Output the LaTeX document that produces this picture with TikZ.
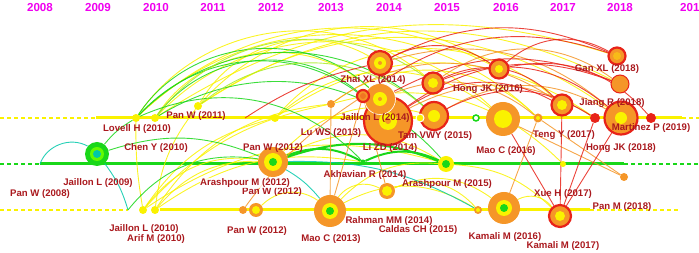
\documentclass[tikz,border=0pt]{standalone}
\usepackage{fontspec}
\setsansfont{Liberation Sans}
\usetikzlibrary{backgrounds}
\definecolor{cgreen}{RGB}{25,215,25}
\definecolor{cteal}{RGB}{0,200,170}
\definecolor{cyellow}{RGB}{250,242,0}
\definecolor{clime}{RGB}{170,235,40}
\definecolor{corange}{RGB}{245,150,40}
\definecolor{cred}{RGB}{232,35,25}
\definecolor{labred}{RGB}{170,25,30}
\definecolor{yearpink}{RGB}{240,0,240}

\begin{document}
\begin{tikzpicture}
  [x=1pt, y=-1pt,
   lab/.style={font=\sffamily\bfseries\fontsize{9.6}{10}\selectfont, text=labred, inner sep=0pt},
   year/.style={font=\sffamily\bfseries\fontsize{11.6}{12}\selectfont, text=yearpink, inner sep=0pt},
   hot/.style={circle, inner sep=0pt, fill=corange, draw=cred, line width=2.2pt},
   warm/.style={circle, inner sep=0pt, fill=corange},
   cold/.style={circle, inner sep=0pt, fill=cgreen},
   smalldot/.style={circle, inner sep=0pt, minimum size=8pt, fill=cyellow},
   timeline/.style={line width=3pt},
   dashtail/.style={line width=1.3pt, dash pattern=on 4pt off 3pt},
   cite/.style={line width=0.9pt, opacity=0.85}]

  \useasboundingbox (0,0) rectangle (699,253);

  % Years
  \node[year] (y08) at (40,8) {2008};
  \node[year] (y09) at (98,8) {2009};
  \node[year] (y10) at (156,8) {2010};
  \node[year] (y11) at (213,8) {2011};
  \node[year] (y12) at (271,8) {2012};
  \node[year] (y13) at (331,8) {2013};
  \node[year] (y14) at (389,8) {2014};
  \node[year] (y15) at (447,8) {2015};
  \node[year] (y16) at (506,8) {2016};
  \node[year] (y17) at (563,8) {2017};
  \node[year] (y18) at (620,8) {2018};
  \node[year] (y19) at (693,8) {2019};

  % Top line
  \node[smalldot] (lovell) at (136,118) {};
  \node[smalldot] (cheny) at (155,118) {};
  \node[smalldot] (panw11) at (198,106) {};
  \node[smalldot] (t12a) at (275,118) {};
  \coordinate (t12b) at (245,118);
  \node[warm, minimum size=8pt] (luws) at (331,104) {};
  \node[hot, minimum size=48pt] (jail14) at (388,121) {};
  \fill[cyellow] (jail14) circle (9); \fill[corange] (jail14) circle (3);
  \node[hot, minimum size=31pt, draw=white, line width=0.6pt] (zhaiB) at (380,99) {};
  \fill[cyellow] (zhaiB) circle (7); \fill[corange] (zhaiB) circle (2);
  \node[hot, minimum size=12pt] (zhaiS) at (363,96) {};
  \fill[corange!70!cred] (zhaiS) circle (3);
  \node[hot, minimum size=24pt] (zhaiA) at (380,63) {};
  \fill[cyellow] (zhaiA) circle (6); \fill[corange] (zhaiA) circle (2);
  \node[hot, minimum size=28pt] (tamB) at (434,116) {};
  \fill[cyellow] (tamB) circle (6);
  \node[hot, minimum size=21pt] (tamA) at (433,83) {};
  \fill[cyellow] (tamA) circle (5);
  \node[smalldot, draw=white, line width=1pt] (y15n) at (420,118) {};
  \node[circle, inner sep=0pt, minimum size=6pt, draw=cgreen, line width=1.5pt, fill=white] (g15) at (476,118) {};
  \node[hot, minimum size=19pt] (hong16) at (499,69) {};
  \fill[cyellow] (hong16) circle (4);
  \node[warm, minimum size=34pt] (mao16) at (503,119) {};
  \fill[cyellow] (mao16) circle (9);
  \node[warm, minimum size=9pt] (o17) at (538,118) {};
  \fill[cyellow] (o17) circle (2);
  \node[hot, minimum size=21pt] (jiang) at (562,105) {};
  \fill[cyellow] (jiang) circle (5);
  \node[circle, inner sep=0pt, minimum size=10pt, fill=cred] (r18a) at (595,118) {};
  \node[hot, minimum size=33pt] (mart) at (621,118) {};
  \fill[cyellow] (mart) circle (6);
  \node[warm, minimum size=18pt, draw=cred, line width=1pt] (gan2) at (620,84) {};
  \node[hot, minimum size=17pt] (gan) at (617,56) {};
  \fill[corange!60!cyellow] (gan) circle (4);
  \node[circle, inner sep=0pt, minimum size=10pt, fill=cred] (r19) at (651,118) {};

  % Middle line
  \coordinate (pan08) at (40,164);
  \node[cold, minimum size=24pt] (jail09) at (97,154) {};
  \fill[green!60!cyellow] (jail09) circle (7); \fill[cteal] (jail09) circle (4);
  \node[warm, minimum size=30pt] (panw12m) at (273,162) {};
  \fill[cyellow] (panw12m) circle (9); \fill[cgreen] (panw12m) circle (4);
  \node[cold, minimum size=5pt] (lizdn) at (363,162) {};
  \node[circle, inner sep=0pt, minimum size=16pt, fill=cyellow] (m15) at (446,164) {};
  \fill[cgreen] (m15) circle (4);
  \node[smalldot, minimum size=6pt] (m17) at (563,164) {};
  \node[warm, minimum size=8pt] (hong18) at (624,177) {};

  % Bottom line
  \coordinate (b0) at (128,210);
  \node[smalldot] (jail10) at (143,210) {};
  \node[smalldot] (arif) at (155,210) {};
  \node[warm, minimum size=8pt] (panw12a) at (243,210) {};
  \node[warm, minimum size=14pt] (panw12b) at (256,210) {};
  \fill[cyellow] (panw12b) circle (4);
  \node[warm, minimum size=32pt] (mao13) at (330,211) {};
  \fill[cyellow] (mao13) circle (8); \fill[cgreen] (mao13) circle (4);
  \node[warm, minimum size=16pt] (akh) at (387,191) {};
  \fill[cyellow] (akh) circle (5);
  \node[warm, minimum size=8pt] (cal) at (478,210) {};
  \fill[cyellow] (cal) circle (2);
  \node[warm, minimum size=32pt] (kam16) at (504,208) {};
  \fill[cyellow] (kam16) circle (8); \fill[cgreen] (kam16) circle (4);
  \node[hot, minimum size=22pt] (kam17) at (560,216) {};
  \fill[cyellow] (kam17) circle (5);

  \begin{scope}[on background layer]
    % Timelines
    \draw[dashtail, cyellow] (0,118) -- (96,118);
    \draw[timeline, cyellow] (96,118) -- (682,118);
    \draw[dashtail, cyellow] (682,118) -- (699,118);
    \draw[dashtail, cgreen] (0,164) -- (pan08);
    \draw[timeline, cgreen] (pan08) -- (624,164);
    \draw[dashtail, cgreen] (624,164) -- (699,164);
    \draw[dashtail, cyellow] (0,210) -- (b0);
    \draw[timeline, cyellow] (160,210) -- (590,210);
    \draw[dashtail, cyellow] (590,210) -- (680,210);

    % Yellow arcs
    \draw[cite, cyellow] (cheny) to[bend left=45] (mao16);
    \draw[cite, cyellow] (lovell) to[bend left=35] (hong16);
    \draw[cite, cyellow] (panw11) to[bend left=30] (gan2);
    \draw[cite, cyellow] (t12a) to[bend left=45] (jiang);
    \draw[cite, cyellow] (panw11) to[bend left=35] (mart);
    \draw[cite, cyellow] (cheny) to[bend left=25] (gan);
    \draw[cite, cyellow] (lovell) to[bend left=44] (o17);
    \draw[cite, cyellow] (lovell) to[bend left=48] (tamA);
    \draw[cite, cyellow] (cheny) to[bend left=50] (zhaiB);
    \draw[cite, cyellow] (panw11) to[bend left=45] (zhaiA);
    \draw[cite, cyellow] (panw11) to[bend left=40] (hong16);
    \draw[cite, cyellow] (t12a) to[bend left=40] (mao16);
    \draw[cite, cyellow] (t12a) to[bend left=35] (r18a);
    \draw[cite, cyellow] (luws) to[bend left=40] (o17);
    \draw[cite, cyellow] (jail10) to[bend left=30] (panw12m);
    \draw[cite, cyellow] (arif) to[bend left=25] (panw12m);
    \draw[cite, cyellow] (jail10) to[bend left=5] (lovell);
    \draw[cite, cyellow] (arif) to[bend left=15] (panw11);
    \draw[cite, cyellow] (arif) to[bend left=25] (luws);
    \draw[cite, cyellow] (jail10) to[bend left=20] (t12a);
    \draw[cite, cyellow] (jail10) to[bend left=25] (m15);
    \draw[cite, cyellow] (arif) to[bend left=22] (lizdn);
    \draw[cite, cyellow] (jail10) to[bend left=18] (luws);
    \draw[cite, cyellow] (panw12b) to[bend left=40] (mao13);
    \draw[cite, cyellow] (mao13) to[bend left=40] (akh);
    \draw[cite, cyellow] (akh) to[bend left=35] (cal);
    \draw[cite, cyellow] (kam16) to[bend left=40] (kam17);
    \draw[cite, cyellow] (mao13) to[bend left=30] (cal);
    \draw[cite, cyellow] (akh) to[bend left=30] (kam16);
    \draw[cite, cyellow] (m15) to[bend left=20] (kam17);
    \draw[cite, cyellow] (panw12m) to[bend left=30] (m15);
    \draw[cite, cyellow] (panw12m) to[bend left=30] (tamB);
    \draw[cite, cyellow] (mao13) to[bend left=25] (m15);
    \draw[cite, cyellow] (luws) to[bend left=30] (m17);

    % Green arcs
    \draw[cite, cgreen] (lovell) to[bend left=50] (zhaiB);
    \draw[cite, cgreen] (lovell) to[bend left=45] (jail14);
    \draw[cite, cgreen] (lovell) to[bend left=44] (tamB);
    \draw[cite, cgreen] (cheny) to[bend left=46] (zhaiS);
    \draw[cite, clime] (cheny) to[bend left=44] (tamA);
    \draw[cite, cgreen] (cheny) to[bend left=40] (m15);
    \draw[cite, cgreen] (lovell) to[bend left=35] (lizdn);
    \draw[cite, clime] (panw11) to[bend left=40] (tamB);
    \draw[cite, cgreen] (jail09) to[bend left=20] (panw12m);
    \draw[cite, cgreen] (jail09) to[bend left=10] (lovell);
    \draw[cite, cteal] (pan08) to[bend left=50] (jail09);
    \draw[cite, cteal] (jail09) to[bend left=10] (b0);
    \draw[cite, cgreen] (b0) to[bend left=30] (panw12m);
    \draw[cgreen, line width=2pt] (panw12m) to[bend left=25] (lizdn);
    \draw[cgreen, line width=2pt] (panw12m) to[bend left=20] (m15);
    \draw[cgreen, line width=2pt] (lizdn) to[bend left=25] (m15);
    \draw[cite, cteal] (panw12m) to[bend left=10] (mao13);
    \draw[cite, cteal] (panw12m) to[bend left=15] (cal);

    % Orange arcs
    \draw[cite, corange] (luws) to[bend left=35] (jiang);
    \draw[cite, corange] (tamA) to[bend left=35] (gan2);
    \draw[cite, corange] (tamB) to[bend left=30] (mart);
    \draw[cite, corange] (zhaiB) to[bend left=30] (o17);
    \draw[cite, corange] (jail14) to[bend left=30] (r18a);
    \draw[cite, corange] (zhaiA) to[bend left=28] (mart);
    \draw[cite, corange] (mao13) -- (luws);
    \draw[cite, corange] (akh) -- (zhaiS);
    \draw[cite, corange] (mao13) -- (zhaiS);
    \draw[cite, corange] (panw12a) to[bend left=10] (zhaiS);
    \draw[cite, corange] (hong18) -- (o17);
    \draw[cite, corange] (hong18) -- (mao16);
    \draw[cite, corange] (o17) -- (kam16);

    % Red arcs
    \draw[cite, cred] (zhaiA) to[bend left=25] (gan);
    \draw[cite, cred] (zhaiS) to[bend left=28] (gan);
    \draw[cite, cred] (t12b) to[bend left=10] (zhaiA);
    \draw[cite, cred] (zhaiA) to[bend left=30] (hong16);
    \draw[cite, cred] (tamA) to[bend left=35] (jiang);
    \draw[cite, cred] (tamA) to[bend left=30] (mart);
    \draw[cite, cred] (hong16) to[bend left=35] (gan);
    \draw[cite, cred] (jail14) to[bend left=30] (jiang);
    \draw[cite, cred] (jail14) to[bend left=28] (gan2);
    \draw[cite, cred] (zhaiB) to[bend left=25] (gan2);
    \draw[cite, cred] (hong16) to[bend left=30] (r19);
    \draw[cite, cred] (tamB) to[bend left=30] (r18a);
    \draw[cite, cred] (kam17) -- (jiang);
    \draw[cite, cred] (kam17) -- (r18a);
    \draw[cite, cred] (kam17) -- (mart);
    \draw[cite, cred] (kam17) -- (mao16);
  \end{scope}

  % Labels
  \node[lab] (lLovell) at (137,129) {Lovell H (2010)};
  \node[lab] (lChen) at (156,148) {Chen Y (2010)};
  \node[lab] (lPan11) at (196,116) {Pan W (2011)};
  \node[lab] (lJail09) at (98,183) {Jaillon L (2009)};
  \node[lab] (lPan08) at (40,194) {Pan W (2008)};
  \node[lab] (lPan12m) at (273,148) {Pan W (2012)};
  \node[lab] (lLu) at (331,133) {Lu WS (2013)};
  \node[lab] (lJail14) at (375,118) {Jaillon L (2014)};
  \node[lab] (lZhai) at (373,80) {Zhai XL (2014)};
  \node[lab] (lHong16) at (488,89) {Hong JK (2016)};
  \node[lab] (lGan) at (607,69) {Gan XL (2018)};
  \node[lab] (lJiang) at (612,103) {Jiang R (2018)};
  \node[lab] (lTam) at (435,136) {Tam VWY (2015)};
  \node[lab] (lLi) at (390,148) {Li ZD (2014)};
  \node[lab] (lMao16) at (506,151) {Mao C (2016)};
  \node[lab] (lTeng) at (564,135) {Teng Y (2017)};
  \node[lab] (lMart) at (651,128) {Martinez P (2019)};
  \node[lab] (lHong18) at (621,148) {Hong JK (2018)};
  \node[lab] (lAkh) at (365,175) {Akhavian R (2014)};
  \node[lab] (lPan12x) at (272,192) {Pan W (2012)};
  \node[lab, fill=white, fill opacity=0.8, text opacity=1, inner sep=0.6pt] (lAra12) at (245,183) {Arashpour M (2012)};
  \node[lab] (lAra15) at (447,184) {Arashpour M (2015)};
  \node[lab] (lXue) at (563,194) {Xue H (2017)};
  \node[lab] (lPanM) at (622,207) {Pan M (2018)};
  \node[lab] (lJail10) at (144,229) {Jaillon L (2010)};
  \node[lab] (lArif) at (156,239) {Arif M (2010)};
  \node[lab] (lPan12b) at (257,231) {Pan W (2012)};
  \node[lab] (lMao13) at (331,239) {Mao C (2013)};
  \node[lab] (lRahman) at (389,221) {Rahman MM (2014)};
  \node[lab] (lCaldas) at (418,230) {Caldas CH (2015)};
  \node[lab] (lKam16) at (505,237) {Kamali M (2016)};
  \node[lab] (lKam17) at (563,246) {Kamali M (2017)};

\end{tikzpicture}
\end{document}
